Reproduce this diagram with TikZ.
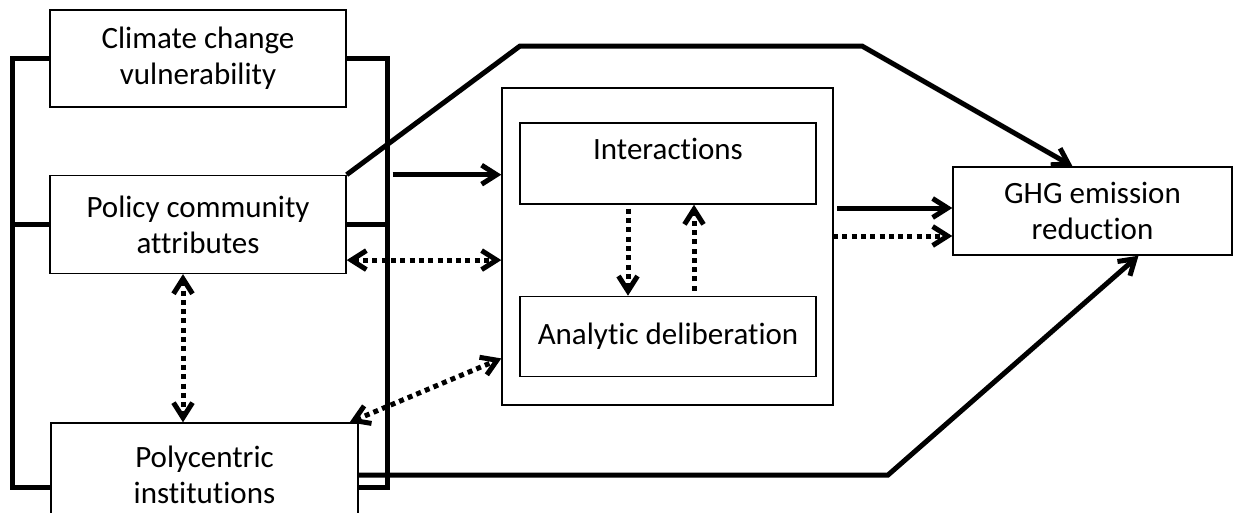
\documentclass[tikz,border=0pt]{standalone}
\usepackage{fontspec}
\setmainfont{Carlito}[Ligatures=NoCommon]
\usetikzlibrary{arrows.meta,positioning}

\begin{document}
\begin{tikzpicture}[
        x=1pt, y=-1pt,
        >={Straight Barb[length=15pt,width=19pt]},
        every node/.style={font=\fontsize{31}{36}\selectfont, align=center},
        box/.style={draw, line width=1.4pt, inner sep=0pt},
        heavy/.style={line width=5pt},
        dots/.style={line width=5pt, dash pattern=on 5pt off 4.3pt},
        node distance=67pt
        ]
        \useasboundingbox (0,0) rectangle (1240,512);
        % Boxes
        \node[box, minimum width=296pt, minimum height=97pt]  (climate) at (198,58.5) {Climate change\\vulnerability};
        \node[box, minimum width=296pt, minimum height=98pt, below=of climate] (policy) {Policy community\\attributes};
        \node[box, minimum width=307pt, minimum height=104pt] (poly) at (204.5,475) {Polycentric\\institutions};
        \node[box, minimum width=331pt, minimum height=317pt] (context) at (667.5,246.5) {};
        \node[box, minimum width=296pt, minimum height=81pt, text depth=29pt] (inter) at (668,163.5) {Interactions};
        \node[box, minimum width=296pt, minimum height=80pt, below=91pt of inter] (analytic) {Analytic deliberation};
        \node[box, minimum width=279pt, minimum height=88pt]  (ghg) at (1092.5,211) {GHG emission\\reduction};

        % Corners and ends
        \coordinate (lb)   at (12,487);
        \coordinate (rb)   at (387,487);
        \coordinate (top1) at (520,46);
        \coordinate (top2) at (862,46);
        \coordinate (bend) at (888,475);
        \coordinate (pd)   at ([yshift=14pt]policy.south east);
        \coordinate (ad)   at ([yshift=-22pt]analytic.west);
        \coordinate (out1) at (837,208);
        \coordinate (out2) at (833,236);

        % Bracket round the three factors
        \draw[heavy] (climate.west) -| (lb) -- (poly.west |- lb);
        \draw[heavy] (policy.west) -- (policy.west -| lb);
        \draw[heavy] (climate.east) -| (rb) -- (poly.east |- rb);
        \draw[heavy] (policy.east) -- (policy.east -| rb);

        % Direct paths to GHG
        \draw[heavy, ->] (policy.north east) -- (top1) -- (top2) -- ([xshift=-20pt]ghg.north);
        \draw[heavy, ->] (poly.east) -- (bend) -- ([xshift=46pt]ghg.south);

        % Into the context box
        \draw[heavy, ->] ([xshift=46pt]policy.north east) -- (context.west |- policy.north east);
        \draw[dots, <->]  (pd) -- (context.west |- pd);
        \draw[dots, <->]  ([xshift=-15pt]policy.south) -- ([xshift=-15pt]policy.south |- poly.north);
        \draw[dots, <->]  ([xshift=-9pt]poly.north east) -- (context.west |- ad);

        % Inside the context box
        \draw[dots, ->, shorten <=4pt] ([xshift=-40pt]inter.south) -- ([xshift=-40pt]analytic.north);
        \draw[dots, ->, shorten <=5pt] ([xshift=26pt]analytic.north) -- ([xshift=26pt]inter.south);

        % Out of the context box
        \draw[heavy, ->] (out1) -- (ghg.west |- out1);
        \draw[dots, ->]  (out2) -- (ghg.west |- out2);
      \end{tikzpicture}
\end{document}
